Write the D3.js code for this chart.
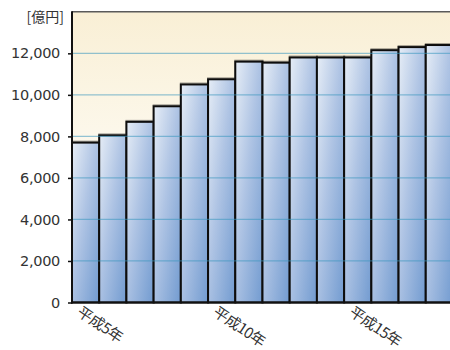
<!DOCTYPE html>
<html>
<head>
<meta charset="utf-8">
<script src="https://cdn.jsdelivr.net/npm/d3@7"></script>
<style>
  html, body { margin: 0; padding: 0; background: #fff; }
  svg { display: block; }
</style>
</head>
<body>
<svg id="chart" width="450" height="350"></svg>
<script>
// Annual amounts (億円), 平成5年 through 平成18年
const years = [5, 6, 7, 8, 9, 10, 11, 12, 13, 14, 15, 16, 17, 18];
const values = [7700, 8050, 8700, 9450, 10500, 10750, 11600, 11550, 11800, 11800, 11800, 12150, 12300, 12400];
const yTicks = [0, 2000, 4000, 6000, 8000, 10000, 12000];
const labeledYears = [5, 10, 15];
const unitLabel = "[億円]";

const svg = d3.select("#chart");
const plotLeft = 72, plotRight = 453, plotTop = 11.8, plotBottom = 302.5;

const x = d3.scaleBand().domain(years).range([plotLeft, plotRight]).padding(0);
const y = d3.scaleLinear().domain([0, 14000]).range([plotBottom, plotTop]);

const defs = svg.append("defs");

const bg = defs.append("linearGradient").attr("id", "bgGrad")
  .attr("x1", 0).attr("y1", 0).attr("x2", 0).attr("y2", 1);
bg.append("stop").attr("offset", 0).attr("stop-color", "#f9efd5");
bg.append("stop").attr("offset", 0.55).attr("stop-color", "#fdfaf1");
bg.append("stop").attr("offset", 1).attr("stop-color", "#ffffff");

const barGrad = defs.append("linearGradient").attr("id", "barGrad")
  .attr("x1", 0).attr("y1", 0).attr("x2", 1).attr("y2", 1);
barGrad.append("stop").attr("offset", 0).attr("stop-color", "#e6edf6");
barGrad.append("stop").attr("offset", 0.45).attr("stop-color", "#afc4e4");
barGrad.append("stop").attr("offset", 1).attr("stop-color", "#729bd0");

const shadow = defs.append("filter").attr("id", "topShadow")
  .attr("x", "-5%").attr("y", "-5%").attr("width", "110%").attr("height", "110%");
shadow.append("feDropShadow").attr("dx", 0).attr("dy", -1)
  .attr("stdDeviation", 0.6).attr("flood-color", "#000").attr("flood-opacity", 0.35);

// Plot background
svg.append("rect")
  .attr("x", plotLeft).attr("y", plotTop)
  .attr("width", 450 - plotLeft).attr("height", plotBottom - plotTop)
  .attr("fill", "url(#bgGrad)");

// Top border of plot area
svg.append("line")
  .attr("x1", plotLeft).attr("x2", 450)
  .attr("y1", plotTop).attr("y2", plotTop)
  .attr("stroke", "#5a5a5a").attr("stroke-width", 1.4);

// Bars
svg.append("g").selectAll("rect")
  .data(values)
  .join("rect")
  .attr("x", (d, i) => x(years[i]))
  .attr("y", d => y(d))
  .attr("width", x.bandwidth())
  .attr("height", d => y(0) - y(d))
  .attr("fill", "url(#barGrad)")
  .attr("stroke", "#111")
  .attr("stroke-width", 2)
  .attr("filter", "url(#topShadow)");

// Gridlines drawn over the bars
svg.append("g").selectAll("line")
  .data(yTicks.filter(t => t > 0))
  .join("line")
  .attr("x1", plotLeft).attr("x2", 450)
  .attr("y1", d => y(d)).attr("y2", d => y(d))
  .attr("stroke", "#3a98c0")
  .attr("stroke-opacity", 0.55)
  .attr("stroke-width", 1.2);

// Left axis with ticks
const yAxis = d3.axisLeft(y).tickValues(yTicks).tickSize(4).tickPadding(8)
  .tickFormat(d3.format(","));
const gy = svg.append("g").attr("transform", `translate(${plotLeft},0)`).call(yAxis);
gy.select(".domain").remove();
gy.selectAll(".tick line").attr("stroke", "#111").attr("stroke-width", 1.5);
gy.selectAll(".tick text")
  .attr("fill", "#333")
  .style("font-family", "'DejaVu Sans', sans-serif")
  .style("font-size", "14.5px")
  .style("letter-spacing", "-0.3px");

svg.append("line")
  .attr("x1", plotLeft).attr("x2", plotLeft)
  .attr("y1", plotTop - 0.5).attr("y2", plotBottom + 1)
  .attr("stroke", "#111").attr("stroke-width", 2);

// Baseline
svg.append("line")
  .attr("x1", plotLeft - 1).attr("x2", 450)
  .attr("y1", y(0)).attr("y2", y(0))
  .attr("stroke", "#111").attr("stroke-width", 2.2);

// Unit label
svg.append("text")
  .attr("x", 64).attr("y", 22)
  .attr("text-anchor", "end")
  .attr("fill", "#333")
  .style("font-family", "'Noto Sans CJK JP', sans-serif")
  .style("font-size", "14px")
  .text(unitLabel);

// Rotated year labels
svg.append("g").selectAll("text")
  .data(labeledYears)
  .join("text")
  .attr("transform", d => `translate(${x(d) + 4},${plotBottom + 12}) rotate(34)`)
  .attr("fill", "#333")
  .style("font-family", "'Noto Sans CJK JP', sans-serif")
  .style("font-size", "15px")
  .style("letter-spacing", "-0.6px")
  .text(d => `平成${d}年`);
</script>
</body>
</html>
